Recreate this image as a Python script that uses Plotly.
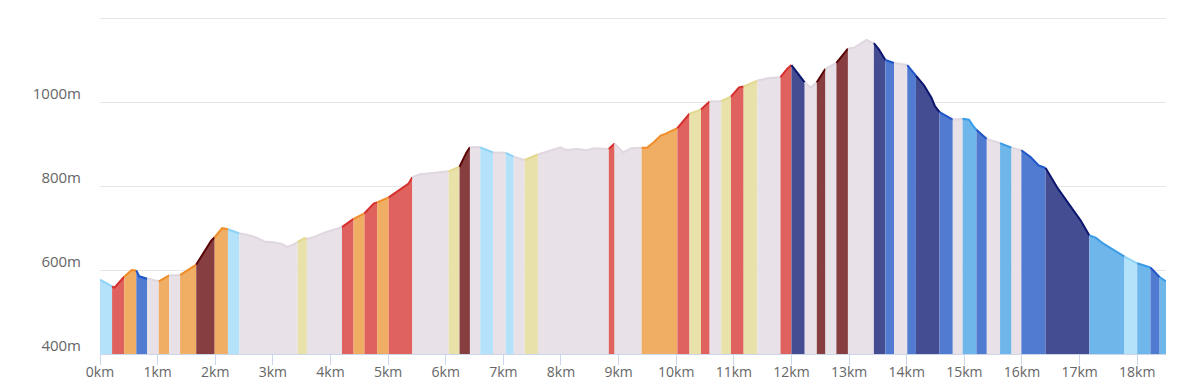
import plotly.graph_objects as go

# Elevation profile: distance (km) and elevation (m)
dist_km = [
    0.00, 0.21, 0.25, 0.42, 0.50, 0.55, 0.63, 0.68, 0.82, 0.95, 1.02, 1.20, 1.39, 1.50, 1.67,
    1.80, 1.93, 1.99, 2.12, 2.22, 2.42, 2.52, 2.70, 2.87, 3.00, 3.16, 3.25, 3.35, 3.43, 3.55,
    3.59, 3.74, 3.91, 4.11, 4.20, 4.40, 4.59, 4.75, 4.81, 5.01, 5.12, 5.26, 5.35, 5.42, 5.55,
    5.78, 5.95, 6.05, 6.24, 6.36, 6.42, 6.50, 6.60, 6.82, 7.04, 7.18, 7.37, 7.60, 7.81, 7.99,
    8.08, 8.28, 8.45, 8.57, 8.83, 8.93, 9.08, 9.22, 9.40, 9.49, 9.61, 9.73, 9.81, 9.96, 10.02,
    10.23, 10.43, 10.58, 10.78, 10.95, 11.09, 11.17, 11.41, 11.62, 11.81, 11.92, 12.00, 12.23,
    12.33, 12.44, 12.59, 12.78, 12.98, 13.10, 13.30, 13.43, 13.52, 13.63, 13.78, 14.01, 14.16,
    14.30, 14.43, 14.49, 14.57, 14.80, 14.97, 15.08, 15.17, 15.21, 15.39, 15.62, 15.82, 15.99,
    16.15, 16.29, 16.41, 16.61, 16.81, 17.02, 17.17, 17.28, 17.42, 17.57, 17.68, 17.78, 18.00,
    18.23, 18.39, 18.50,
]
elev_m = [
    577, 561, 558, 584, 595, 600, 599, 585, 579, 575, 573, 587, 588, 598, 613,
    640, 670, 678, 700, 697, 687, 685, 678, 667, 666, 662, 655, 660, 667, 676,
    674, 680, 690, 698, 702, 722, 735, 758, 761, 773, 783, 795, 805, 821, 828,
    831, 834, 835, 846, 880, 892, 893, 892, 880, 879, 870, 862, 875, 884, 892,
    886, 888, 885, 890, 888, 901, 880, 890, 891, 891, 904, 920, 924, 934, 938,
    972, 982, 1001, 1002, 1013, 1035, 1037, 1051, 1057, 1059, 1078, 1088, 1047,
    1034, 1047, 1079, 1093, 1127, 1130, 1148, 1140, 1125, 1100, 1093, 1088, 1063,
    1040, 1010, 990, 976, 958, 960, 958, 940, 934, 912, 902, 891, 885,
    869, 849, 843, 797, 758, 718, 682, 677, 662, 650, 642, 632, 616,
    606, 583, 573,
]

# Gradient segments: boundaries (km) and gradient class of each segment
seg_bounds_km = [
    0.00, 0.21, 0.42, 0.63, 0.82, 1.02, 1.20, 1.39, 1.67, 1.99, 2.22, 2.42, 3.43, 3.59, 4.20,
    4.40, 4.59, 4.81, 5.01, 5.42, 6.05, 6.24, 6.42, 6.60, 6.82, 7.04, 7.18, 7.37, 7.60, 8.83,
    8.93, 9.40, 10.02, 10.23, 10.43, 10.58, 10.78, 10.95, 11.17, 11.41, 11.81, 12.00, 12.23,
    12.44, 12.59, 12.78, 12.98, 13.43, 13.63, 13.78, 14.01, 14.16, 14.57, 14.80, 14.97, 15.21,
    15.39, 15.62, 15.82, 15.99, 16.41, 17.17, 17.78, 18.00, 18.23, 18.39, 18.50,
]
seg_class = [
    "LB", "R", "O", "MB", "G", "O", "G", "O", "M", "O", "LB", "G", "Y", "G", "R",
    "O", "R", "O", "R", "G", "Y", "M", "G", "LB", "G", "LB", "G", "Y", "G", "R",
    "G", "O", "R", "Y", "R", "G", "Y", "R", "Y", "G", "R", "N", "G",
    "M", "G", "M", "G", "N", "MB", "G", "MB", "N", "MB", "G", "SB", "MB",
    "G", "SB", "G", "MB", "N", "SB", "LB", "SB", "MB", "SB",
]

x_tick_vals = list(range(0, 19))
x_tick_text = [f"{k}km" for k in x_tick_vals]
y_tick_vals = [400, 600, 800, 1000, 1200]
y_tick_text = ["400m", "600m", "800m", "1000m", ""]

# Styles: (fill colour, line colour)
STYLE = {
    "LB": ("#b3e2fa", "#8ed2f6"),
    "SB": ("#6fb7ea", "#3a9be6"),
    "MB": ("#517bd0", "#1f55c6"),
    "N":  ("#444c92", "#0b166e"),
    "G":  ("#e8e1e8", "#e0d7e0"),
    "Y":  ("#e8e1aa", "#e2d88e"),
    "O":  ("#f0ad64", "#f08d28"),
    "R":  ("#e0625e", "#d6302e"),
    "M":  ("#863e40", "#5a0505"),
}

fig = go.Figure()
eps = 1e-9
for i, cls in enumerate(seg_class):
    a, b = seg_bounds_km[i], seg_bounds_km[i + 1]
    xs = [x for x in dist_km if a - eps <= x <= b + eps]
    ys = [e for x, e in zip(dist_km, elev_m) if a - eps <= x <= b + eps]
    fill_c, line_c = STYLE[cls]
    fig.add_trace(go.Scatter(
        x=xs, y=ys, mode="lines", fill="tozeroy",
        fillcolor=fill_c, line=dict(color=line_c, width=2),
        hoverinfo="skip", showlegend=False,
    ))

# The page body has an 8px margin, so the figure is sized/margined to compensate.
font_family = "Open Sans, Arial, sans-serif"
fig.update_layout(
    width=1179, height=384,
    margin=dict(l=92, r=21, t=8, b=38),
    paper_bgcolor="white", plot_bgcolor="white",
    font=dict(family=font_family, size=14, color="#666666"),
    showlegend=False,
)
fig.update_xaxes(
    range=[0, 18.5], tickvals=x_tick_vals, ticktext=x_tick_text,
    showgrid=False, zeroline=False, showline=True, linecolor="#ccd6eb", linewidth=1,
    ticks="outside", ticklen=10, tickcolor="#ccd6eb", tickwidth=1,
    ticklabelstandoff=-5, automargin=False,
    tickfont=dict(size=14, color="#666666"),
)
fig.update_yaxes(
    range=[400, 1204.8], tickvals=y_tick_vals, ticktext=y_tick_text,
    showgrid=True, gridcolor="#e6e6e6", gridwidth=1, zeroline=False, showline=False,
    ticks="", ticklabelstandoff=18, ticklabelshift=-8, automargin=False,
    tickfont=dict(size=15, color="#666666"),
)

fig.write_html("out.html")
